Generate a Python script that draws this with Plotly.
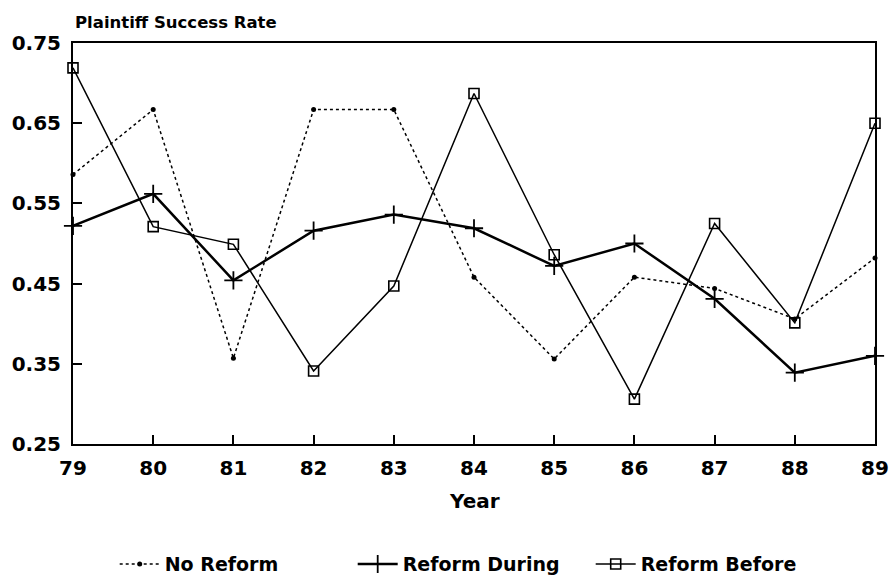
import plotly.graph_objects as go

years = [79, 80, 81, 82, 83, 84, 85, 86, 87, 88, 89]
no_reform = [0.586, 0.667, 0.357, 0.667, 0.667, 0.458, 0.356, 0.458, 0.444, 0.406, 0.482]
reform_during = [0.522, 0.562, 0.454, 0.516, 0.536, 0.519, 0.472, 0.500, 0.431, 0.339, 0.360]
reform_before = [0.719, 0.521, 0.499, 0.341, 0.447, 0.687, 0.486, 0.306, 0.525, 0.401, 0.650]
y_ticks = [0.25, 0.35, 0.45, 0.55, 0.65, 0.75]

FONT = "DejaVu Sans, sans-serif"

fig = go.Figure()
fig.add_trace(go.Scatter(
    x=years, y=no_reform, name="No Reform", mode="lines+markers",
    line=dict(color="black", width=1.5, dash="dot"),
    marker=dict(symbol="circle", size=5, color="black"),
    cliponaxis=False,
))
fig.add_trace(go.Scatter(
    x=years, y=reform_during, name="Reform During", mode="lines+markers",
    line=dict(color="black", width=2.5),
    marker=dict(symbol="cross-thin", size=13, line=dict(color="black", width=1.8)),
    cliponaxis=False,
))
fig.add_trace(go.Scatter(
    x=years, y=reform_before, name="Reform Before", mode="lines+markers",
    line=dict(color="black", width=1.5),
    marker=dict(symbol="square-open", size=10, color="black", line=dict(width=1.6)),
    cliponaxis=False,
))

fig.update_layout(
    width=890, height=578,
    margin=dict(l=73, r=15, t=43, b=134),
    paper_bgcolor="white", plot_bgcolor="white",
    font=dict(family=FONT, size=19, color="black"),
    showlegend=True,
    legend=dict(
        orientation="h", xref="container", x=0.53, xanchor="center",
        yref="container", y=0.024, yanchor="middle",
        font=dict(family=FONT, size=19, color="black", weight="bold"),
        itemwidth=40, entrywidth=183, entrywidthmode="pixels",
    ),
    annotations=[
        dict(
            text="<b>Plaintiff Success Rate</b>", x=0, y=1.0, xref="paper", yref="paper",
            xanchor="left", yanchor="middle", yshift=21, showarrow=False,
            font=dict(family=FONT, size=16.5, color="black"),
        ),
        dict(
            text="<b>Year</b>", x=0.5, y=-0.142, xref="paper", yref="paper",
            xanchor="center", yanchor="middle", showarrow=False,
            font=dict(family=FONT, size=20, color="black"),
        ),
    ],
)

fig.update_xaxes(
    range=[79, 89], tickvals=years, ticktext=[str(y) for y in years],
    showgrid=False, zeroline=False, showline=True, linecolor="black", linewidth=2,
    mirror=True, ticks="inside", ticklen=9, tickwidth=1.5, tickcolor="black",
    tickfont=dict(family=FONT, size=20, color="black", weight="bold"),
    ticklabelstandoff=5, automargin=False,
)
fig.update_yaxes(
    range=[0.25, 0.75], tickvals=y_ticks, ticktext=[f"{v:.2f}" for v in y_ticks],
    showgrid=False, zeroline=False, showline=True, linecolor="black", linewidth=2,
    mirror=True, ticks="inside", ticklen=9, tickwidth=1.5, tickcolor="black",
    tickfont=dict(family=FONT, size=20, color="black", weight="bold"),
    ticklabelstandoff=6, automargin=False,
)

fig.write_html(
    "out.html",
    config={"displayModeBar": False},
    post_script="document.body.style.margin='0px';document.body.style.overflow='hidden';",
)
